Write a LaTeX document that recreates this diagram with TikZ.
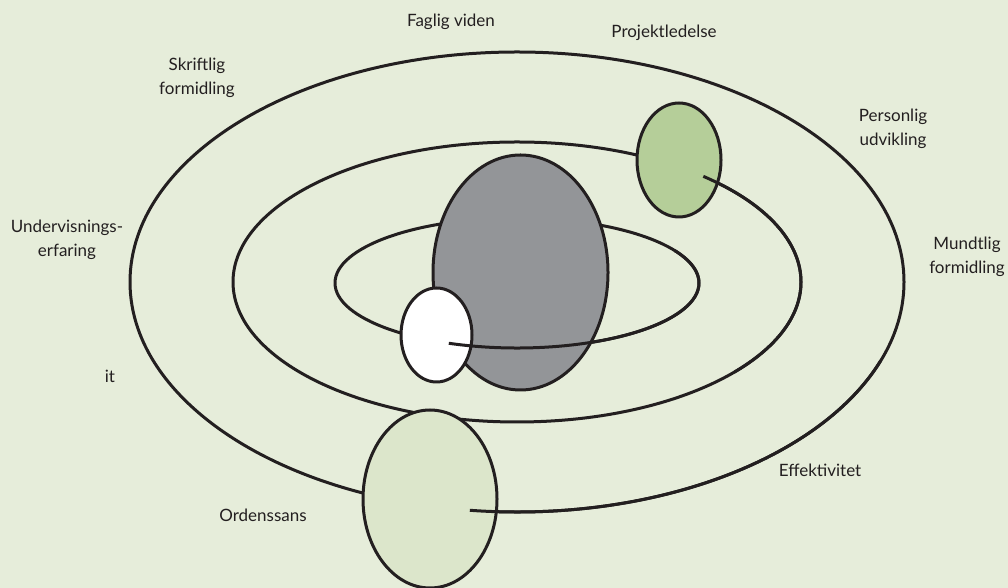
\documentclass[tikz,border=0pt]{standalone}
\usepackage{fontspec}
\setmainfont{Lato}
\usetikzlibrary{shapes.geometric}
\definecolor{bg}{HTML}{E6EDDA}
\definecolor{ink}{HTML}{231F20}
\definecolor{planetgray}{HTML}{939598}
\definecolor{planetgreen}{HTML}{B5CE99}
\definecolor{planetpale}{HTML}{DCE6CB}
\tikzset{
  orbit/.style={draw=ink, line width=3pt},
  planet/.style={ellipse, draw=ink, line width=3pt, inner sep=0pt},
  lbl/.style={align=center, font=\fontsize{17}{24}\selectfont, text=ink},
}

\begin{document}
\begin{tikzpicture}[x=1pt, y=1pt]
        \fill[bg] (0,0) rectangle (1008,588);
        \useasboundingbox (0,0) rectangle (1008,588);
        \coordinate (C) at (517,306);
        % orbits
        \draw[orbit] (C) ellipse[x radius=387, y radius=230];
        \draw[orbit] (C) ellipse[x radius=284, y radius=140];
        \draw[orbit] ([yshift=-1]C) ellipse[x radius=182, y radius=65];
        % planets
        \node[planet, fill=planetgray, minimum width=175, minimum height=235] (G) at (520.5,315.5) {};
        \node[planet, fill=white, minimum width=71, minimum height=94] (W) at (436.5,253) {};
        \node[planet, fill=planetgreen, minimum width=84, minimum height=114] (P) at (679,428) {};
        \node[planet, fill=planetpale, minimum width=134, minimum height=178] (O) at (430,89) {};
        % trails in front
        \draw[orbit] ([yshift=-1]C) +(-112:182 and 65) arc[start angle=-112, end angle=30, x radius=182, y radius=65];
        \draw[orbit] (C) +(49:284 and 140) arc[start angle=49, end angle=-40, x radius=284, y radius=140];
        \draw[orbit] (C) +(-97:387 and 230) arc[start angle=-97, end angle=-20, x radius=387, y radius=230];
        % labels
        \node[lbl] (faglig) at (451,566) {Faglig viden};
        \node[lbl] (projekt) at (664,555) {Projektledelse};
        \node[lbl] (skrift) at (197,510) {Skriftlig\\formidling};
        \node[lbl] (person) at (893,459) {Personlig\\udvikling};
        \node[lbl] (underv) at (67,348) {Undervisnings-\\erfaring};
        \node[lbl] (it) at (110,212) {it};
        \node[lbl] (mundt) at (967,331) {Mundtlig\\formidling};
        \node[lbl] (effekt) at (820,118) {Effektivitet};
        \node[lbl] (orden) at (263,73) {Ordenssans};
      \end{tikzpicture}
\end{document}
